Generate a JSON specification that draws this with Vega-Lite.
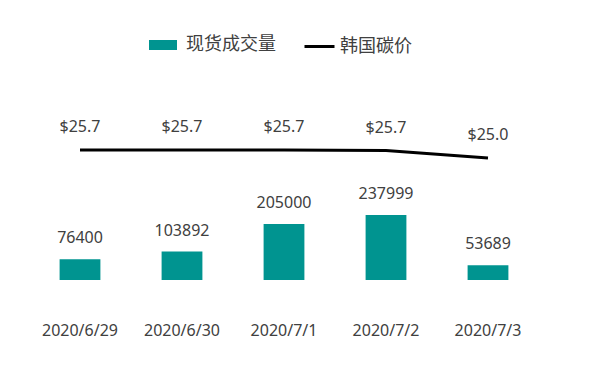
{
  "$schema": "https://vega.github.io/schema/vega-lite/v6.json",
  "autosize": {"type": "none"},
  "padding": {"left": 29, "top": 100, "right": 77, "bottom": 85},
  "width": 510,
  "height": 180,
  "background": "white",
  "config": {"view": {"stroke": null}, "font": "Noto Sans"},
  "data": {"values": [
    {"date": "2020/6/29", "volume": 76400, "price": 25.7, "plabel": "$25.7"},
    {"date": "2020/6/30", "volume": 103892, "price": 25.7, "plabel": "$25.7"},
    {"date": "2020/7/1", "volume": 205000, "price": 25.7, "plabel": "$25.7"},
    {"date": "2020/7/2", "volume": 237999, "price": 25.66, "plabel": "$25.7"},
    {"date": "2020/7/3", "volume": 53689, "price": 25.0, "plabel": "$25.0"}
  ]},
  "encoding": {
    "x": {"field": "date", "type": "nominal", "sort": null,
      "scale": {"paddingInner": 0.6, "paddingOuter": 0.3},
      "axis": {"title": null, "labelAngle": 0, "domain": false, "ticks": false, "labelPadding": 42, "labelFontSize": 16, "labelColor": "#404040", "labelFont": "Noto Sans"}}
  },
  "layer": [
    {
      "layer": [
        {"mark": {"type": "bar"},
         "encoding": {
           "y": {"field": "volume", "type": "quantitative", "scale": {"domain": [0, 658929]}, "axis": null},
           "fill": {"datum": "现货成交量", "type": "nominal", "scale": {"range": ["#009490"]},
             "legend": {"title": null, "orient": "none", "legendX": 119, "legendY": -70, "symbolType": "M-0.933,-0.333H0.933V0.333H-0.933Z", "symbolSize": 900, "symbolStrokeWidth": 0, "labelOffset": 8, "labelFontSize": 18, "labelFont": "Noto Sans CJK SC", "labelColor": "#404040", "padding": 0}}
         }},
        {"mark": {"type": "text", "dy": -21, "fontSize": 16, "color": "#404040", "baseline": "middle"},
         "encoding": {
           "y": {"field": "volume", "type": "quantitative", "scale": {"domain": [0, 658929]}, "axis": null},
           "text": {"field": "volume", "type": "quantitative", "format": "d"}
         }}
      ]
    },
    {
      "layer": [
        {"mark": {"type": "line", "strokeWidth": 3},
         "encoding": {
           "y": {"field": "price", "type": "quantitative", "scale": {"domain": [14.33, 30.08]}, "axis": null},
           "stroke": {"datum": "韩国碳价", "type": "nominal", "scale": {"range": ["black"]},
             "legend": {"title": null, "orient": "none", "legendX": 274, "legendY": -70, "symbolType": "stroke", "symbolSize": 900, "symbolStrokeWidth": 3, "labelFontSize": 18, "labelFont": "Noto Sans CJK SC", "labelColor": "#404040", "padding": 0}}
         }},
        {"mark": {"type": "text", "dy": -23, "fontSize": 16, "color": "#404040", "baseline": "middle"},
         "encoding": {
           "y": {"field": "price", "type": "quantitative", "scale": {"domain": [14.33, 30.08]}, "axis": null},
           "text": {"field": "plabel", "type": "nominal"}
         }}
      ]
    }
  ],
  "resolve": {"scale": {"y": "independent"}}
}
